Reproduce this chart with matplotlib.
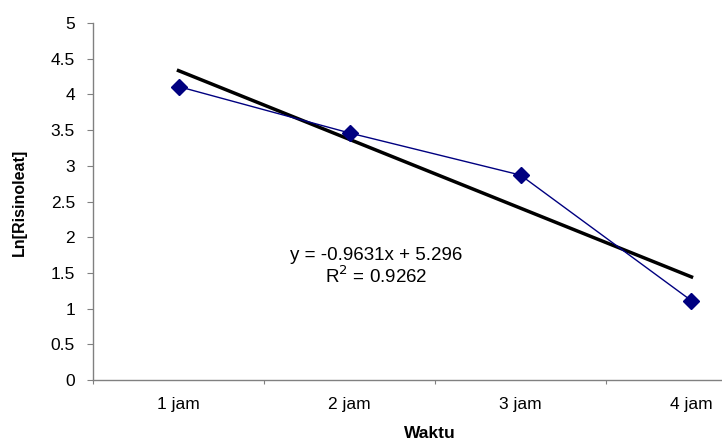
import matplotlib
matplotlib.use("Agg")
import matplotlib.pyplot as plt
import numpy as np

plt.rcParams['font.family'] = ['Liberation Sans', 'DejaVu Sans']

categories = ["1 jam", "2 jam", "3 jam", "4 jam"]
ln_risinoleat = [4.11, 3.46, 2.87, 1.11]
trend_slope = -0.9631
trend_intercept = 5.296
trend_label = "y = -0.9631x + 5.296\nR$^2$ = 0.9262"
y_ticks = [0, 0.5, 1, 1.5, 2, 2.5, 3, 3.5, 4, 4.5, 5]

W, H = 722, 443
fig = plt.figure(figsize=(W / 100, H / 100), dpi=100)
ax = fig.add_axes([93 / W, (H - 380) / H, (777 - 93) / W, (380 - 23) / H])

x = np.arange(len(categories))
trend_y = [trend_slope * (i + 1) + trend_intercept for i in x]
ax.plot(x, trend_y, color="black", lw=2.5, zorder=2)
ax.plot(x, ln_risinoleat, color="#000080", lw=1, marker="D", ms=8,
        markerfacecolor="#000080", markeredgecolor="#000080", zorder=3)

ax.set_xlim(-0.5, len(categories) - 0.5)
ax.set_ylim(0, 5)
ax.set_yticks(y_ticks)
ax.set_yticklabels([f"{v:g}" for v in y_ticks], fontsize=12.5)
ax.set_xticks(np.arange(len(categories) + 1) - 0.5)
ax.set_xticklabels([])
ax.set_xticks(x, minor=True)
ax.set_xticklabels(categories, minor=True, fontsize=12.5)
ax.tick_params(axis="x", which="minor", length=0, pad=12)
ax.tick_params(axis="x", which="major", length=3, color="#808080")
ax.tick_params(axis="y", length=4, color="#808080", pad=9)

for s in ["top", "right"]:
    ax.spines[s].set_visible(False)
for s in ["left", "bottom"]:
    ax.spines[s].set_color("#808080")
    ax.spines[s].set_linewidth(1)

ax.text((376.5 - 93) / 171 - 0.5, (380 - 267) / 71.4, trend_label,
        ha="center", va="center", fontsize=13.5, linespacing=1.1)

fig.text(19.5 / W, 1 - 202.5 / H, "Ln[Risinoleat]", rotation=90, ha="center",
         va="center", fontsize=11.5, fontweight="bold")
fig.text(430 / W, 1 - 433 / H, "Waktu", ha="center", va="center",
         fontsize=12.5, fontweight="bold")

fig.savefig("out.png", dpi=100)
